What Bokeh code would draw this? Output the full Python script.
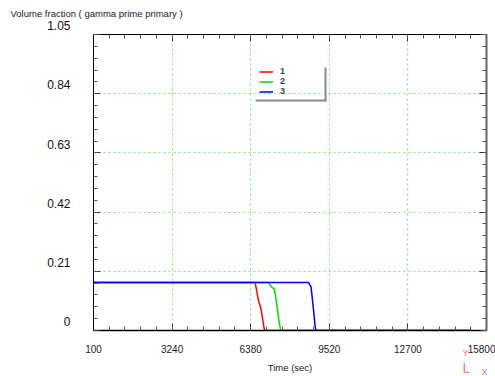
import numpy as np
from bokeh.plotting import figure
from bokeh.models import (Range1d, FixedTicker, LinearAxis, Label, Legend, LegendItem,
                          BoxAnnotation, CustomJSTickFormatter)
from bokeh.embed import file_html
from bokeh.resources import INLINE

# ---------------- data ----------------
title_text = "Volume fraction ( gamma prime primary )"
x_label = "Time (sec)"
x_ticks = [100, 3240, 6380, 9520, 12660, 15800]
x_tick_labels = ["100", "3240", "6380", "9520", "12700", "15800"]
y_ticks = [0, 0.21, 0.42, 0.63, 0.84, 1.05]
y_tick_labels = ["0", "0.21", "0.42", "0.63", "0.84", "1.05"]

series_names = ["1", "2", "3"]
t1 = [100, 6560, 6690, 6790, 6920, 6960, 15160]
v1 = [0.170, 0.170, 0.106, 0.077, 0.006, 0.0, 0.0]
t2 = [100, 7090, 7230, 7320, 7400, 7500, 7570, 7600, 15160]
v2 = [0.170, 0.170, 0.153, 0.148, 0.106, 0.040, 0.004, 0.0, 0.0]
t3 = [100, 8690, 8790, 8870, 8960, 9000, 15160]
v3 = [0.170, 0.170, 0.155, 0.090, 0.010, 0.0, 0.0]
series_colors = ["#ff0000", "#00dd00", "#0000ff"]

FONT = "Liberation Sans"

p = figure(width=495, height=376, output_backend="svg", toolbar_location=None,
           x_range=Range1d(x_ticks[0], x_ticks[-1]), y_range=Range1d(y_ticks[0], y_ticks[-1]),
           min_border_left=93, min_border_right=9, min_border_top=33, min_border_bottom=46)
p.outline_line_color = None
p.background_fill_color = "white"
p.border_fill_color = "white"

# title (a second blank line lifts the visible line higher above the frame)
p.title.text = title_text + "\n "
p.title.align = "left"
p.title.offset = -83
p.title.standoff = 10
p.title.text_font = FONT
p.title.text_font_size = "9.5px"
p.title.text_font_style = "normal"
p.title.text_color = "#222222"

x_minor = list(np.arange(x_ticks[0], x_ticks[-1] + 1, (x_ticks[1] - x_ticks[0]) / 5))
y_minor = list(np.round(np.arange(0, 1.05 + 1e-9, 0.042), 3))
xticker = FixedTicker(ticks=x_ticks, minor_ticks=x_minor)
yticker = FixedTicker(ticks=y_ticks, minor_ticks=y_minor)

blank = CustomJSTickFormatter(code="return ''")

# grids
p.xgrid.ticker = xticker
p.ygrid.ticker = yticker
for g in (p.xgrid, p.ygrid):
    g.grid_line_color = "#6fee6f"
    g.grid_line_dash = "2 3"
    g.grid_line_width = 1

def style_axis(ax, color="black", width=1):
    ax.major_tick_in = 7
    ax.major_tick_out = 0
    ax.minor_tick_in = 4
    ax.minor_tick_out = 0
    ax.major_tick_line_color = "#333333"
    ax.minor_tick_line_color = "#555555"
    ax.axis_line_color = color
    ax.axis_line_width = width

# bottom axis
xa = p.xaxis[0]
xa.ticker = xticker
xa.major_label_overrides = {t: s for t, s in zip(x_ticks, x_tick_labels)}
xa.major_label_text_font = FONT
xa.major_label_text_font_size = "10px"
xa.major_label_text_color = "#222222"
xa.major_label_standoff = 14
xa.axis_label = x_label
xa.axis_label_text_font = FONT
xa.axis_label_text_font_size = "9.5px"
xa.axis_label_text_font_style = "normal"
xa.axis_label_text_color = "#222222"
xa.axis_label_standoff = 6
style_axis(xa, "black", 1.5)

# left axis: labels sit slightly above their ticks (second blank line lifts them)
ya = p.yaxis[0]
ya.ticker = yticker
ya.major_label_overrides = {t: s + "\n " for t, s in zip(y_ticks, y_tick_labels)}
ya.major_label_text_font = FONT
ya.major_label_text_font_size = "12px"
ya.major_label_text_color = "#111111"
ya.major_label_standoff = 23
style_axis(ya, "black", 1)

# top and right axes
top = LinearAxis(ticker=xticker, formatter=blank, major_label_standoff=0)
style_axis(top, "black", 1)
p.add_layout(top, "above")
right = LinearAxis(ticker=yticker, formatter=blank, major_label_standoff=0)
style_axis(right, "#666666", 2)
p.add_layout(right, "right")

# lines
renderers = []
for t, v, c in zip([t1, t2, t3], [v1, v2, v3], series_colors):
    r = p.line(t, v, line_color=c, line_width=1.5)
    renderers.append(r)

legend = Legend(items=[LegendItem(label=n, renderers=[r]) for n, r in zip(series_names, renderers)],
                location=(162, 230), background_fill_alpha=0, border_line_alpha=0,
                label_text_font=FONT, label_text_font_size="9px", label_text_font_style="bold",
                glyph_width=14, glyph_height=9, label_height=9, spacing=0, padding=4,
                label_standoff=7, margin=0, label_width=41)
p.add_layout(legend, "center")

# legend shadow
p.add_layout(BoxAnnotation(left=231, right=233, bottom=229, top=263,
                           left_units="screen", right_units="screen", top_units="screen", bottom_units="screen",
                           fill_color="#888888", fill_alpha=1, line_color=None))
p.add_layout(BoxAnnotation(left=162, right=233, bottom=229, top=231,
                           left_units="screen", right_units="screen", top_units="screen", bottom_units="screen",
                           fill_color="#888888", fill_alpha=1, line_color=None))

# axis triad icon (labels in the left panel, moved to the lower right)
pink = "#ff6f6f"
for txt, lx, ly, fs, al in [("Y", 427, -22, "9px", "center"),
                            ("X", 452, -41, "9px", "center"),
                            ("L", 438, -37.6, "14px", "left")]:
    p.add_layout(Label(x=lx, x_units="screen", y=ly, y_units="screen", text=txt,
                       text_align=al, text_baseline="middle",
                       text_font=FONT, text_font_size=fs, text_color=pink), "left")

open("out.html", "w").write(file_html(p, INLINE))
